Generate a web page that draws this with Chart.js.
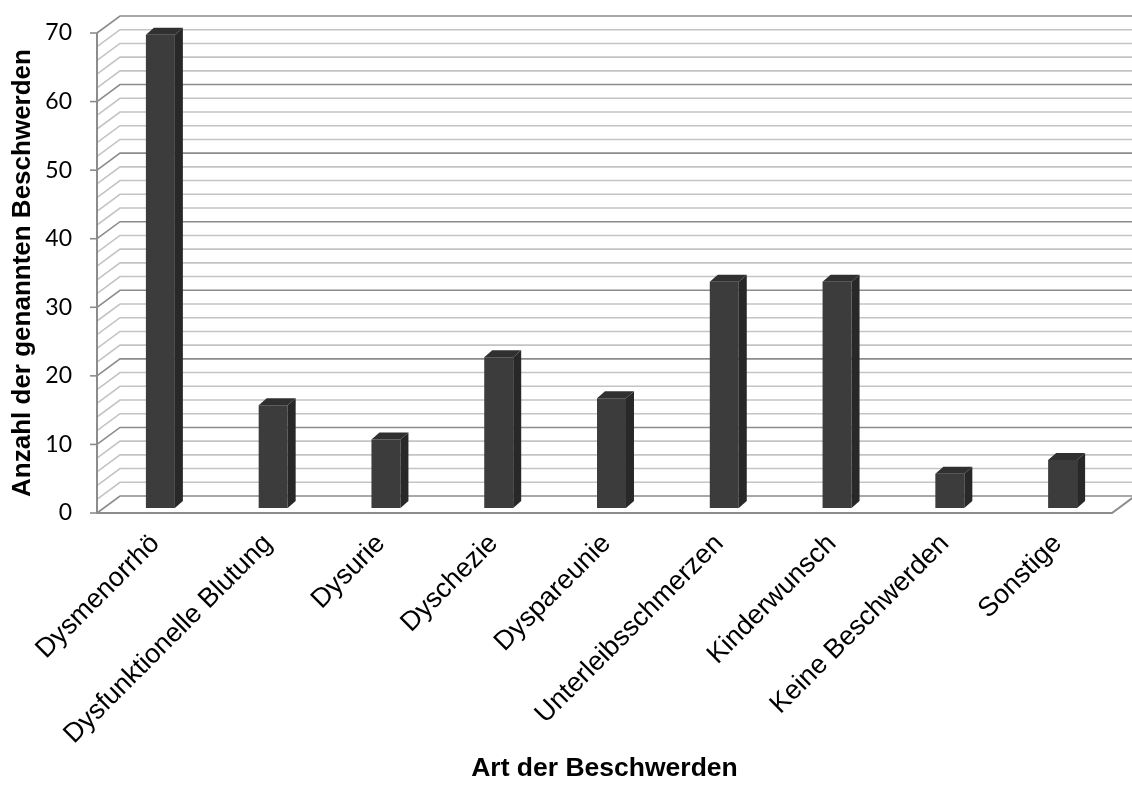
<!DOCTYPE html>
<html>
<head>
<meta charset="utf-8">
<script src="https://cdn.jsdelivr.net/npm/chart.js@4.4.1/dist/chart.umd.min.js"></script>
<style>
    html, body { margin: 0; padding: 0; background: #ffffff; }
</style>
</head>
<body>
<canvas id="beschwerden_chart" width="1132" height="785"></canvas>
<script>
// Data
var categories = ['Dysmenorrhö', 'Dysfunktionelle Blutung', 'Dysurie', 'Dyschezie', 'Dyspareunie',
                  'Unterleibsschmerzen', 'Kinderwunsch', 'Keine Beschwerden', 'Sonstige'];
var values = [69, 15, 10, 22, 16, 33, 33, 5, 7];
var yMin = 0, yMax = 70, yStep = 10, yMinorStep = 2;

// 3D look: back wall offset, bar plane offset, bar depth
var WALL_DX = 23, WALL_DY = -17;
var BAR_DX = 7, BAR_DY = -5;
var BOX_DX = 8, BOX_DY = -7;

var threeD = {
    id: 'threeD',
    beforeDatasetsDraw(chart) {
        var ctx = chart.ctx, a = chart.chartArea, ys = chart.scales.y;
        var W = chart.width;
        function gridLine(v, color) {
            var py = ys.getPixelForValue(v);
            ctx.strokeStyle = color;
            ctx.beginPath();
            ctx.moveTo(a.left, py);
            ctx.lineTo(a.left + WALL_DX, py + WALL_DY);
            ctx.lineTo(W + 5, py + WALL_DY);
            ctx.stroke();
        }
        ctx.save();
        ctx.lineWidth = 1.6;
        for (var v = yMin; v <= yMax; v += yMinorStep) {
            if (v % yStep !== 0) gridLine(v, '#c4c4c4');
        }
        for (var v2 = yMin; v2 <= yMax; v2 += yStep) {
            gridLine(v2, '#8c8c8c');
        }
        // floor front and right edge, left wall front edge, tick marks
        var y0 = ys.getPixelForValue(yMin), yTop = ys.getPixelForValue(yMax);
        ctx.strokeStyle = '#8c8c8c';
        ctx.lineWidth = 2;
        ctx.beginPath();
        ctx.moveTo(a.left, yTop);
        ctx.lineTo(a.left, y0);
        ctx.lineTo(a.right, y0);
        ctx.lineTo(a.right + WALL_DX, y0 + WALL_DY);
        ctx.stroke();
        ctx.lineWidth = 1.6;
        for (var t = yMin; t <= yMax; t += yStep) {
            var py = ys.getPixelForValue(t);
            ctx.beginPath();
            ctx.moveTo(a.left - 7, py);
            ctx.lineTo(a.left, py);
            ctx.stroke();
        }
        ctx.restore();
        // bars stand a bit behind the front plane
        ctx.save();
        ctx.translate(BAR_DX, BAR_DY);
    },
    afterDatasetsDraw(chart) {
        var ctx = chart.ctx;
        var meta = chart.getDatasetMeta(0);
        meta.data.forEach(function (bar) {
            var p = bar.getProps(['x', 'y', 'base', 'width'], true);
            var l = p.x - p.width / 2, r = p.x + p.width / 2;
            // side face
            ctx.fillStyle = '#282828';
            ctx.beginPath();
            ctx.moveTo(r, p.y);
            ctx.lineTo(r + BOX_DX, p.y + BOX_DY);
            ctx.lineTo(r + BOX_DX, p.base + BOX_DY);
            ctx.lineTo(r, p.base);
            ctx.closePath();
            ctx.fill();
            // top face
            ctx.fillStyle = '#303030';
            ctx.beginPath();
            ctx.moveTo(l, p.y);
            ctx.lineTo(l + BOX_DX, p.y + BOX_DY);
            ctx.lineTo(r + BOX_DX, p.y + BOX_DY);
            ctx.lineTo(r, p.y);
            ctx.closePath();
            ctx.fill();
        });
        ctx.restore();
    }
};

var ctx = document.getElementById('beschwerden_chart');

var beschwerden_chart = new Chart(ctx, {
    type: 'bar',
    data: {
        labels: categories,
        datasets: [{
            label: 'Anzahl',
            data: values,
            backgroundColor: '#3c3c3c',
            borderWidth: 0,
            categoryPercentage: 1,
            barPercentage: 0.257,
            clip: false
        }]
    },
    options: {
        responsive: false,
        animation: false,
        layout: {
            padding: { top: 33, right: 20, left: 0, bottom: 0 }
        },
        plugins: {
            legend: { display: false },
            tooltip: { enabled: false }
        },
        scales: {
            x: {
                grid: { display: false, drawTicks: false },
                border: { display: false },
                ticks: {
                    autoSkip: false,
                    minRotation: 45,
                    maxRotation: 45,
                    padding: 15,
                    labelOffset: 2,
                    color: '#000000',
                    font: { family: '"Liberation Sans", Arial, sans-serif', size: 27 }
                },
                title: {
                    display: true,
                    text: 'Art der Beschwerden',
                    color: '#000000',
                    padding: { top: 4, bottom: 0 },
                    font: { family: '"Liberation Sans", Arial, sans-serif', size: 26.5, weight: 'bold' }
                },
                afterFit: function (scale) {
                    scale.height = 272;
                    scale.paddingLeft = 0;
                    scale.paddingRight = 0;
                }
            },
            y: {
                min: yMin,
                max: yMax,
                grid: { display: false, drawTicks: false },
                border: { display: false },
                ticks: {
                    stepSize: yStep,
                    padding: 25,
                    color: '#000000',
                    font: { family: 'Lato, "Open Sans", sans-serif', size: 23 }
                },
                title: {
                    display: true,
                    text: 'Anzahl der genannten Beschwerden',
                    color: '#000000',
                    padding: { top: 7, bottom: 4 },
                    font: { family: '"Liberation Sans", Arial, sans-serif', size: 26, weight: 'bold' }
                },
                afterFit: function (scale) {
                    scale.width = 97;
                    scale.paddingTop = 0;
                    scale.paddingBottom = 0;
                }
            }
        }
    },
    plugins: [threeD]
});
</script>
</body>
</html>
